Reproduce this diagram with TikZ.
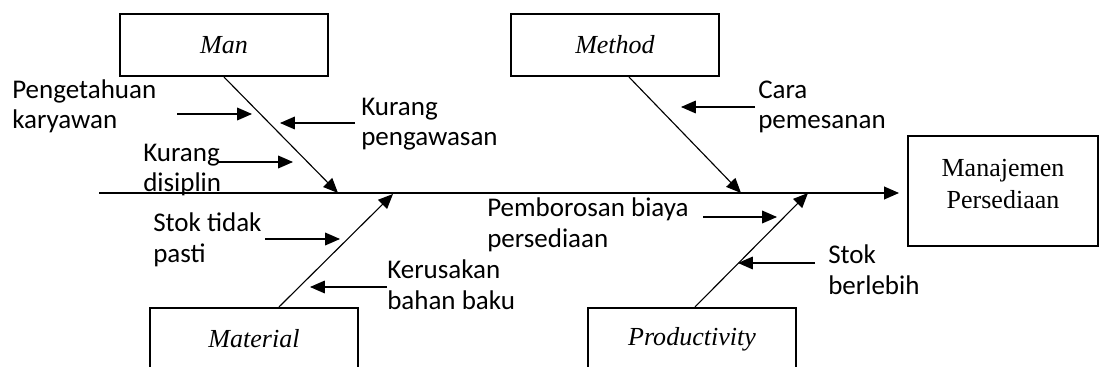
\documentclass[tikz,border=0pt]{standalone}
\usepackage{fontspec}
\setmainfont{Liberation Serif}
\newfontfamily\causefont{Carlito}
\usetikzlibrary{calc, arrows.meta}

\begin{document}
\begin{tikzpicture}[x = 0.025cm, y = -0.025cm,
		box/.style = {draw, line width = 1.5pt, minimum width = 5.2cm, minimum height = 1.55cm, inner sep = 0pt, font = \fontsize{18.5}{22}\selectfont\itshape},
		cause/.style = {inner sep = 0pt, align = left, anchor = base west, font = \causefont\fontsize{19.2}{22}\selectfont},
		pointer/.style = {line width = 0.8pt, -{Triangle[length = 10.5pt, width = 9pt]}}]
		\def\xMIN{0};
		\def\xMAX{1099};
		\def\yMIN{0};
		\def\yMAX{367};

		\clip (\xMIN,\yMIN) rectangle (\xMAX,\yMAX);

		\coordinate (tail) at (99,193);
		\coordinate (head) at (899,193);

		\node [box] (man) at (224,45) {Man};
		\node [box] (method) at (615,45) {Method};
		\node [box] (material) at (254,339) {Material};
		\node [box] (prod) at (692,339) {Productivity};
		\node [box, minimum width = 4.75cm, minimum height = 2.75cm] (effect) at (1003,191) {};
		\node [align = center, inner sep = 0pt, font = \fontsize{18.5}{22.5}\selectfont] (effectText) at ($ (effect) + (0,-7) $) {Manajemen\\Persediaan};

		\draw [line width = 1pt, -{Triangle[length = 10.5pt, width = 9pt]}] (tail) -- (head);

		\coordinate (jMan) at (338,193);
		\coordinate (jMethod) at (741,193);
		\coordinate (jMaterial) at (393,194);
		\coordinate (jProd) at (808,193);

		\draw [pointer] (man.south) -- (jMan);
		\draw [pointer] ($ (method.south) + (14,0) $) -- (jMethod);
		\draw [pointer] ($ (material.north) + (25,0) $) -- (jMaterial);
		\draw [pointer] ($ (prod.north) + (3,0) $) -- (jProd);

		\begin{scope}
			\node [cause] (peng) at (12,129) {Pengetahuan\\karyawan};
			\node [cause] (awas) at (361,146) {Kurang\\pengawasan};
			\node [cause] (disip) at (143,192) {Kurang\\disiplin};

			\coordinate (pengS) at (177,114);
			\coordinate (pengT) at (252,114);
			\coordinate (awasS) at (355,123);
			\coordinate (awasT) at (280,123);
			\coordinate (disipS) at (217,162);
			\coordinate (disipT) at (293,162);

			\draw [pointer] (pengS) -- (pengT);
			\draw [pointer] (awasS) -- (awasT);
			\draw [pointer] (disipS) -- (disipT);
		\end{scope}

		\begin{scope}
			\node [cause] (cara) at (758,129) {Cara\\pemesanan};

			\coordinate (caraS) at (755,107);
			\coordinate (caraT) at (681,107);

			\draw [pointer] (caraS) -- (caraT);
		\end{scope}

		\begin{scope}
			\node [cause] (pasti) at (153,262) {Stok tidak\\pasti};
			\node [cause] (rusak) at (387,309) {Kerusakan\\bahan baku};

			\coordinate (pastiS) at (265,239);
			\coordinate (pastiT) at (340,239);
			\coordinate (rusakS) at (387,287);
			\coordinate (rusakT) at (310,287);

			\draw [pointer] (pastiS) -- (pastiT);
			\draw [pointer] (rusakS) -- (rusakT);
		\end{scope}

		\begin{scope}
			\node [cause] (boros) at (487,247) {Pemborosan biaya\\persediaan};
			\node [cause] (lebih) at (828,294) {Stok\\berlebih};

			\coordinate (borosS) at (703,217);
			\coordinate (borosT) at (777,217);
			\coordinate (lebihS) at (815,263);
			\coordinate (lebihT) at (738,263);

			\draw [pointer] (borosS) -- (borosT);
			\draw [pointer] (lebihS) -- (lebihT);
		\end{scope}
	\end{tikzpicture}
\end{document}
